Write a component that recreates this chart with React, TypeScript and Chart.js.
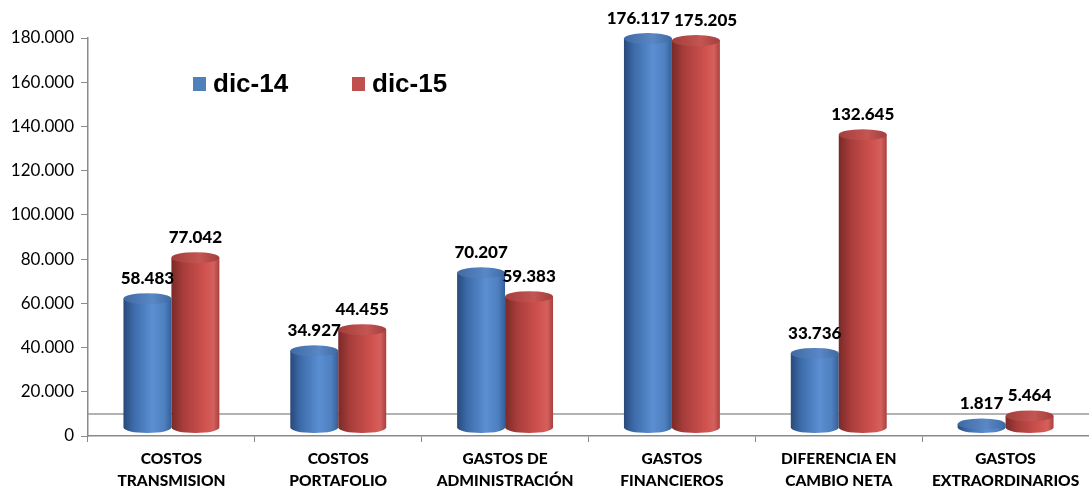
import { useEffect, useRef } from 'react';
import { Chart, registerables } from 'chart.js';

Chart.register(...registerables);

const categories: string[][] = [
  ['COSTOS', 'TRANSMISION'],
  ['COSTOS', 'PORTAFOLIO'],
  ['GASTOS DE', 'ADMINISTRACIÓN'],
  ['GASTOS', 'FINANCIEROS'],
  ['DIFERENCIA EN', 'CAMBIO NETA'],
  ['GASTOS', 'EXTRAORDINARIOS'],
];
const seriesNames = ['dic-14', 'dic-15'];
const dic14 = [58483, 34927, 70207, 176117, 33736, 1817];
const dic15 = [77042, 44455, 59383, 175205, 132645, 5464];
const yMin = 0;
const yMax = 180000;
const yStep = 20000;
const floorValue = 10000;

const fmt = (n: number) => String(Math.round(n)).replace(/\B(?=(\d{3})+(?!\d))/g, '.');

const palettes = [
  {
    legend: '#4f81bd',
    body: [
      [0, '#29497a'],
      [0.2, '#3b6aa8'],
      [0.6, '#5b8fd2'],
      [0.85, '#4f80c0'],
      [1, '#34609a'],
    ],
    top: ['#3f6aa3', '#5a88c6'],
  },
  {
    legend: '#c0504d',
    body: [
      [0, '#7a2a28'],
      [0.25, '#a83d3b'],
      [0.7, '#d0524f'],
      [0.88, '#d4605d'],
      [1, '#a8403d'],
    ],
    top: ['#a33f3c', '#c45552'],
  },
];

const LABEL_FONT = '900 17px Lato';

const cylinderPlugin = {
  id: 'cylinders',
  beforeDatasetsDraw(chart: any) {
    const { ctx, chartArea, scales } = chart;
    const y = scales.y.getPixelForValue(floorValue);
    ctx.save();
    ctx.strokeStyle = '#9a9a9a';
    ctx.lineWidth = 1.5;
    ctx.beginPath();
    ctx.moveTo(chartArea.left, y);
    ctx.lineTo(chartArea.right, y);
    ctx.stroke();
    ctx.restore();
  },
  afterDatasetsDraw(chart: any) {
    const { ctx } = chart;
    const dy = -8;
    const ry = 5.5;
    const labels: { x: number; y: number; t: string; w: number }[][] = [];
    ctx.save();
    ctx.font = LABEL_FONT;
    chart.data.datasets.forEach((ds: any, di: number) => {
      const meta = chart.getDatasetMeta(di);
      const pal = palettes[di];
      meta.data.forEach((el: any, i: number) => {
        const { x, y, base, width } = el.getProps(['x', 'y', 'base', 'width'], true);
        const rx = width / 2;
        const left = x - rx;
        const right = x + rx;
        const top = y + dy;
        const bottom = base + dy;
        const g = ctx.createLinearGradient(left, 0, right, 0);
        pal.body.forEach(([o, c]: any) => g.addColorStop(o, c));
        ctx.fillStyle = g;
        ctx.beginPath();
        ctx.moveTo(left, top);
        ctx.lineTo(left, bottom);
        ctx.ellipse(x, bottom, rx, ry, 0, Math.PI, 0, true);
        ctx.lineTo(right, top);
        ctx.closePath();
        ctx.fill();
        const tg = ctx.createLinearGradient(left, 0, right, 0);
        tg.addColorStop(0, pal.top[0]);
        tg.addColorStop(0.6, pal.top[1]);
        tg.addColorStop(1, pal.top[0]);
        ctx.fillStyle = tg;
        ctx.beginPath();
        ctx.ellipse(x, top, rx, ry, 0, 0, Math.PI * 2);
        ctx.fill();
        const t = fmt(ds.data[i]);
        if (!labels[i]) labels[i] = [];
        labels[i][di] = { x, y: top - 20, t, w: ctx.measureText(t).width };
      });
    });
    labels.forEach((pair) => {
      if (!pair || pair.length < 2) return;
      const [a, b] = pair;
      if (Math.abs(a.y - b.y) < 18) {
        const overlap = a.x + a.w / 2 + 4 - (b.x - b.w / 2);
        if (overlap > 0) {
          a.x -= overlap / 2;
          b.x += overlap / 2;
        }
      }
    });
    ctx.fillStyle = '#000';
    ctx.textAlign = 'center';
    ctx.textBaseline = 'middle';
    labels.forEach((pair) => pair && pair.forEach((l) => ctx.fillText(l.t, l.x, l.y)));
    ctx.restore();
  },
};

const legendPlugin = {
  id: 'insideLegend',
  afterDraw(chart: any) {
    const { ctx } = chart;
    const positions = [193, 352];
    const cy = 84;
    ctx.save();
    ctx.font = 'bold 26px "Liberation Sans"';
    ctx.textBaseline = 'middle';
    ctx.textAlign = 'left';
    chart.data.datasets.forEach((ds: any, i: number) => {
      const x = positions[i];
      ctx.fillStyle = palettes[i].legend;
      ctx.fillRect(x, cy - 7, 13, 14);
      ctx.fillStyle = '#000';
      ctx.fillText(ds.label, x + 20, cy + 1);
    });
    ctx.restore();
  },
};

export default function App() {
  const ref = useRef<HTMLCanvasElement>(null);
  useEffect(() => {
    if (!ref.current) return;
    const chart = new Chart(ref.current, {
      type: 'bar',
      data: {
        labels: categories,
        datasets: [
          { label: seriesNames[0], data: dic14, backgroundColor: 'rgba(0,0,0,0)' },
          { label: seriesNames[1], data: dic15, backgroundColor: 'rgba(0,0,0,0)' },
        ],
      },
      options: {
        responsive: true,
        maintainAspectRatio: false,
        animation: false,
        layout: { padding: { top: 38, right: 0, bottom: 0, left: 0 } },
        datasets: { bar: { categoryPercentage: 0.575, barPercentage: 1 } },
        plugins: { legend: { display: false }, tooltip: { enabled: false } },
        scales: {
          x: {
            grid: { drawOnChartArea: false, drawTicks: true, tickLength: 6, color: '#8a8a8a', offset: true },
            border: { display: true, color: '#8a8a8a', width: 1.5 },
            ticks: {
              color: '#000',
              font: { family: 'Lato', weight: '900', size: 15.5, lineHeight: 1.42 },
              padding: 6,
              maxRotation: 0,
              autoSkip: false,
            },
            afterFit: (s: any) => {
              s.height = 53;
            },
          },
          y: {
            min: yMin,
            max: yMax,
            grid: { drawOnChartArea: false, drawTicks: true, tickLength: 7, color: '#8a8a8a' },
            border: { display: true, color: '#8a8a8a', width: 1.5 },
            ticks: {
              stepSize: yStep,
              color: '#000',
              font: { family: 'Lato', size: 17 },
              padding: 7,
              callback: (v: any) => fmt(Number(v)),
            },
            afterFit: (s: any) => {
              s.width = 88;
            },
          },
        },
      },
      plugins: [cylinderPlugin, legendPlugin],
    });
    return () => chart.destroy();
  }, []);
  return (
    <div style={{ position: 'fixed', left: 0, top: 0, width: 1089, height: 489, background: '#fff' }}>
      <canvas ref={ref} />
    </div>
  );
}
